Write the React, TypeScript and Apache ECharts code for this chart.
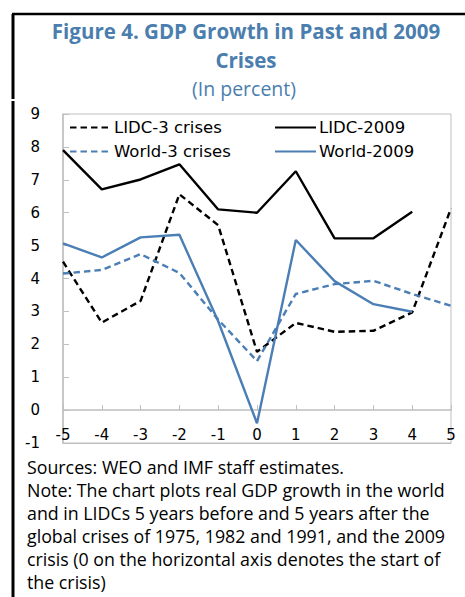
import React, { useEffect, useRef } from "react";
import * as echarts from "echarts";

const xValues = [-5, -4, -3, -2, -1, 0, 1, 2, 3, 4, 5];
const lidc3Crises = [4.51, 2.66, 3.32, 6.56, 5.62, 1.77, 2.65, 2.38, 2.41, 2.97, 6.13];
const lidc2009 = [7.9, 6.71, 7.01, 7.47, 6.1, 6.0, 7.26, 5.22, 5.22, 6.03, null];
const world3Crises = [4.15, 4.26, 4.74, 4.17, 2.75, 1.49, 3.53, 3.83, 3.93, 3.53, 3.17];
const world2009 = [5.07, 4.64, 5.25, 5.33, 2.7, -0.4, 5.17, 3.92, 3.22, 2.99, null];

const titleLines = ["Figure 4. GDP Growth in Past and 2009", "Crises"];
const subtitle = "(In percent)";
const noteLines = [
  "Sources: WEO and IMF staff estimates.",
  "Note: The chart plots real GDP growth in the world",
  "and in LIDCs 5 years before and 5 years after the",
  "global crises of 1975, 1982 and 1991, and the 2009",
  "crisis (0 on the horizontal axis denotes the start of",
  "the crisis)",
];

const BLUE = "#4a7eb5";
const TITLE_BLUE = "#4a7eae";
const GRAY = "#bfbfbf";
const AXIS_FONT = "DejaVu Sans";
const TEXT_FONT = "Open Sans";

function pairs(vals: (number | null)[]) {
  return xValues.map((x, i) => [x, vals[i]]);
}

export default function App() {
  const ref = useRef<HTMLDivElement>(null);
  useEffect(() => {
    if (!ref.current) return;
    const chart = echarts.init(ref.current, null, { renderer: "svg" });
    const dash = [6.5, 4];
    const seriesDefs = [
      { name: "LIDC-3 crises", data: lidc3Crises, color: "#000000", type: dash },
      { name: "LIDC-2009", data: lidc2009, color: "#000000", type: "solid" },
      { name: "World-3 crises", data: world3Crises, color: BLUE, type: dash },
      { name: "World-2009", data: world2009, color: BLUE, type: "solid" },
    ];
    const legendPos = [
      { left: 69, top: 119 },
      { left: 274, top: 119 },
      { left: 69, top: 143 },
      { left: 274, top: 143 },
    ];
    const legends = seriesDefs.map((s, i) => ({
      data: [s.name],
      left: legendPos[i].left,
      top: legendPos[i].top,
      itemWidth: 41,
      itemHeight: 16,
      itemGap: 0,
      padding: 0,
      itemStyle: { opacity: 0 },
      textStyle: { fontFamily: AXIS_FONT, fontSize: 16.5, color: "#000", padding: [0, 0, 0, -2] },
    }));
    const graphics: any[] = [
      { type: "line", shape: { x1: 13, y1: 14, x2: 13, y2: 99 }, style: { stroke: "#000", lineWidth: 3 } },
      { type: "line", shape: { x1: 13, y1: 101, x2: 13, y2: 597 }, style: { stroke: "#000", lineWidth: 3 } },
      { type: "line", shape: { x1: 12, y1: 14, x2: 465, y2: 14 }, style: { stroke: "#000", lineWidth: 2.5 } },
    ];
    titleLines.forEach((t, i) => {
      graphics.push({
        type: "text",
        x: 246,
        y: 31 + i * 29,
        style: {
          text: t,
          fill: TITLE_BLUE,
          font: `bold 20.5px "${TEXT_FONT}"`,
          textAlign: "center",
          textVerticalAlign: "middle",
        },
      });
    });
    graphics.push({
      type: "text",
      x: 244,
      y: 88,
      style: {
        text: subtitle,
        fill: TITLE_BLUE,
        font: `19.5px "${TEXT_FONT}"`,
        textAlign: "center",
        textVerticalAlign: "middle",
      },
    });
    noteLines.forEach((t, i) => {
      graphics.push({
        type: "text",
        x: 27,
        y: 467 + i * 23,
        style: {
          text: t,
          fill: "#000",
          font: `17.8px "${TEXT_FONT}"`,
          textAlign: "left",
          textVerticalAlign: "middle",
        },
      });
    });

    chart.setOption({
      animation: false,
      backgroundColor: "#ffffff",
      grid: {
        left: 63,
        right: 14,
        top: 114,
        bottom: 154,
        show: true,
        borderColor: GRAY,
        borderWidth: 1,
        containLabel: false,
      },
      legend: legends,
      xAxis: [
        {
          type: "value",
          min: -5,
          max: 5,
          interval: 1,
          position: "bottom",
          axisLine: { onZero: false, lineStyle: { color: GRAY, width: 1 } },
          axisTick: { show: false },
          splitLine: { show: false },
          axisLabel: {
            inside: true,
            margin: 1,
            verticalAlign: "bottom",
            fontFamily: AXIS_FONT,
            fontSize: 15,
            color: "#000",
          },
        },
        {
          type: "value",
          min: -5,
          max: 5,
          interval: 1,
          position: "bottom",
          axisLine: { show: true, onZero: true, lineStyle: { color: GRAY, width: 1.5 } },
          axisTick: { show: true, inside: true, length: 5, lineStyle: { color: GRAY } },
          splitLine: { show: false },
          axisLabel: { show: false },
        },
      ],
      yAxis: {
        type: "value",
        min: -1,
        max: 9,
        interval: 1,
        axisLine: { show: true, onZero: false, lineStyle: { color: GRAY, width: 1.5 } },
        axisTick: { show: true, inside: true, length: 6, lineStyle: { color: GRAY } },
        splitLine: { show: false },
        axisLabel: { margin: 23, fontFamily: AXIS_FONT, fontSize: 15, color: "#000" },
      },
      series: seriesDefs.map((s) => ({
        name: s.name,
        type: "line",
        xAxisIndex: 0,
        data: pairs(s.data),
        symbol: "none",
        showSymbol: false,
        connectNulls: false,
        color: s.color,
        lineStyle: { color: s.color, width: 2.4, type: s.type },
      })),
      graphic: graphics,
    });
    return () => chart.dispose();
  }, []);
  return (
    <div
      ref={ref}
      style={{ position: "absolute", left: 0, top: 0, width: 465, height: 597 }}
    />
  );
}
